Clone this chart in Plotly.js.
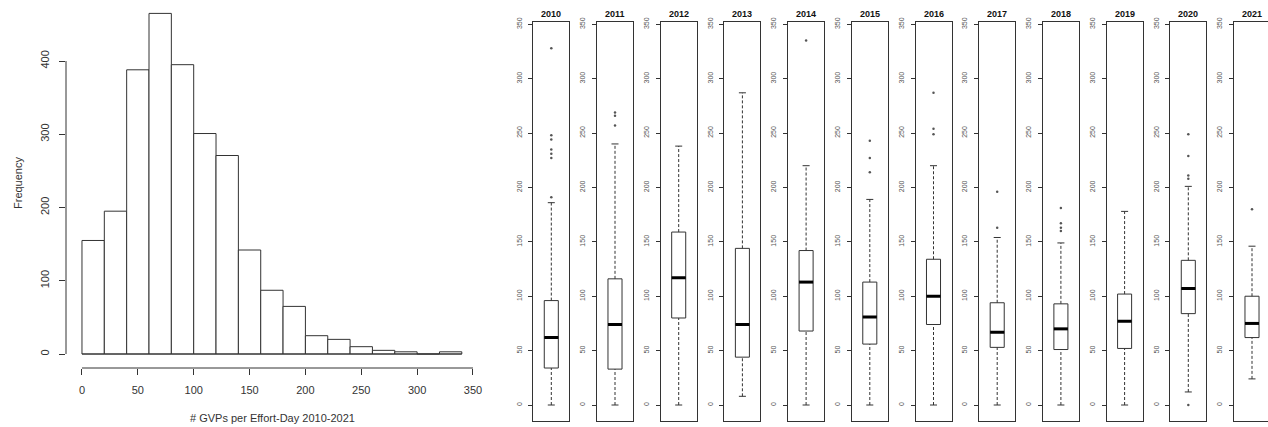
<!DOCTYPE html>
<html><head><meta charset="utf-8">
<script src="https://cdn.plot.ly/plotly-3.0.1.min.js"></script>
<style>html,body{margin:0;padding:0;background:#fff}#chart{width:1268px;height:427px}</style>
</head><body><div id="chart"></div>
<script>
// ---- data ----
const binStarts = [0,20,40,60,80,100,120,140,160,180,200,220,240,260,280,300,320];
const binWidth = 20;
const binCounts = [155,195,388,465,395,301,271,142,87,65,25,20,10,5,3,0,3];
const histXTicks = [0,50,100,150,200,250,300,350];
const histYTicks = [0,100,200,300,400];

const years = ['2010','2011','2012','2013','2014','2015','2016','2017','2018','2019','2020','2021'];
const lowerWhisker = [0,0,0,8,0,0,0,0,0,0,12,24];
const q1s = [34,33,80,44,68,56,74,53,51,52,84,62];
const medians = [62,74,117,74,113,81,100,67,70,77,107,75];
const q3s = [96,116,159,144,142,113,134,94,93,102,133,100];
const upperWhisker = [186,240,238,287,220,189,220,154,149,178,201,146];
const outliers = [
  [191,227,231,235,244,248,328],
  [257,266,269],
  [],
  [],
  [335],
  [214,227,243],
  [249,254,287],
  [163,196],
  [160,163,167,181],
  [],
  [0,208,211,229,249],
  [180]
];
const boxYTicks = [0,50,100,150,200,250,300,350];

// ---- layout helpers ----
const W = 1268, H = 427;
const px = v => v / W;
const py = v => 1 - v / H;
const FONT = 'Liberation Sans, Arial, sans-serif';
const INK = '#333';

const traces = [];
const layout = {
  width: W, height: H,
  margin: {l:0, r:0, t:0, b:0},
  paper_bgcolor: 'white', plot_bgcolor: 'white',
  showlegend: false,
  font: {family: FONT, color: INK},
  annotations: [],
  shapes: []
};

// histogram
traces.push({
  type: 'bar',
  x: binStarts.map(b => b + binWidth / 2),
  y: binCounts,
  width: binWidth,
  marker: {color: 'white', line: {color: INK, width: 1}},
  xaxis: 'x', yaxis: 'y', hoverinfo: 'skip'
});
layout.xaxis = {
  domain: [px(66), px(477)], range: [-14.3, 353.6], anchor: 'y',
  tickmode: 'array', tickvals: histXTicks, ticktext: histXTicks.map(String),
  ticks: 'outside', ticklen: 6, tickcolor: INK, tickwidth: 1,
  ticklabelstandoff: 6,
  showline: false, zeroline: false, showgrid: false,
  tickfont: {size: 11, family: FONT, color: INK}
};
layout.yaxis = {
  domain: [py(368), 1], range: [-19.1, 483.3], anchor: 'x',
  tickmode: 'array', tickvals: histYTicks, ticktext: histYTicks.map(String),
  ticks: 'outside', ticklen: 6, tickcolor: INK, tickwidth: 1, tickangle: -90,
  ticklabelstandoff: 6,
  showline: false, zeroline: false, showgrid: false,
  tickfont: {size: 11, family: FONT, color: INK}
};
layout.shapes.push({type:'line', xref:'x', yref:'paper', x0: histXTicks[0], x1: histXTicks[histXTicks.length-1], y0: py(368), y1: py(368), line:{color: INK, width:1}});
layout.shapes.push({type:'line', xref:'paper', yref:'y', x0: px(66), x1: px(66), y0: histYTicks[0], y1: histYTicks[histYTicks.length-1], line:{color: INK, width:1}});
layout.shapes.push({type:'line', xref:'x', yref:'y', x0: binStarts[0], x1: binStarts[binStarts.length-1] + binWidth, y0: 0, y1: 0, line:{color: INK, width:1}});
layout.annotations.push({text: '# GVPs per Effort-Day 2010-2021', xref:'paper', yref:'paper', x: px(272), y: py(418), showarrow:false, font:{size:11, family:FONT, color:INK}, xanchor:'center', yanchor:'middle'});
layout.annotations.push({text: 'Frequency', xref:'paper', yref:'paper', x: px(18), y: py(183), showarrow:false, textangle: -90, font:{size:11, family:FONT, color:INK}, xanchor:'center', yanchor:'middle'});

// box panels
const boxW = 0.78, capHalf = 0.195;
years.forEach((yr, i) => {
  const n = i + 2;
  const xa = 'x' + n, ya = 'y' + n;
  const L = 533.3 + 63.7 * i;
  const R = Math.min(L + 36, W);
  layout['xaxis' + n] = {
    domain: [px(L), px(R)], range: [-1, -1 + (R - L) / 18], anchor: ya,
    showticklabels: false, ticks: '', showgrid: false, zeroline: false,
    showline: true, mirror: true, linecolor: INK, linewidth: 1, fixedrange: true
  };
  layout['yaxis' + n] = {
    domain: [py(421), py(22)], range: [-14.7, 352.1], anchor: xa,
    tickmode: 'array', tickvals: boxYTicks, ticktext: boxYTicks.map(String),
    ticks: 'outside', ticklen: 4, tickcolor: INK, tickwidth: 1, tickangle: -90,
    ticklabelstandoff: 4,
    tickfont: {size: 7, family: FONT, color: '#555'},
    showgrid: false, zeroline: false,
    showline: true, mirror: i < years.length - 1, linecolor: INK, linewidth: 1, fixedrange: true
  };
  traces.push({
    type: 'box', x: [0], q1: [q1s[i]], median: [medians[i]], q3: [q3s[i]],
    lowerfence: [q1s[i]], upperfence: [q3s[i]],
    width: boxW, whiskerwidth: 0, boxpoints: false,
    fillcolor: 'white', line: {color: INK, width: 1},
    xaxis: xa, yaxis: ya, hoverinfo: 'skip'
  });
  traces.push({
    type: 'scatter', mode: 'lines', x: [0, 0, null, 0, 0],
    y: [lowerWhisker[i], q1s[i], null, q3s[i], upperWhisker[i]],
    line: {color: INK, width: 1, dash: '3px,2px'}, xaxis: xa, yaxis: ya, hoverinfo: 'skip'
  });
  traces.push({
    type: 'scatter', mode: 'lines', x: [-capHalf, capHalf, null, -capHalf, capHalf],
    y: [lowerWhisker[i], lowerWhisker[i], null, upperWhisker[i], upperWhisker[i]],
    line: {color: INK, width: 1}, xaxis: xa, yaxis: ya, hoverinfo: 'skip'
  });
  traces.push({
    type: 'scatter', mode: 'lines', x: [-boxW / 2, boxW / 2], y: [medians[i], medians[i]],
    line: {color: '#000', width: 3}, xaxis: xa, yaxis: ya, hoverinfo: 'skip'
  });
  if (outliers[i].length) {
    traces.push({
      type: 'scatter', mode: 'markers', x: outliers[i].map(() => 0), y: outliers[i],
      marker: {color: '#555', size: 2.5}, xaxis: xa, yaxis: ya, hoverinfo: 'skip'
    });
  }
  layout.annotations.push({
    text: '<b>' + yr + '</b>', xref: 'paper', yref: 'paper', x: px(L + 18), y: py(14),
    showarrow: false, xanchor: 'center', yanchor: 'middle',
    font: {size: 9, family: FONT, color: '#111'}
  });
});

Plotly.newPlot('chart', traces, layout, {staticPlot: true, displayModeBar: false});
</script>
</body></html>
